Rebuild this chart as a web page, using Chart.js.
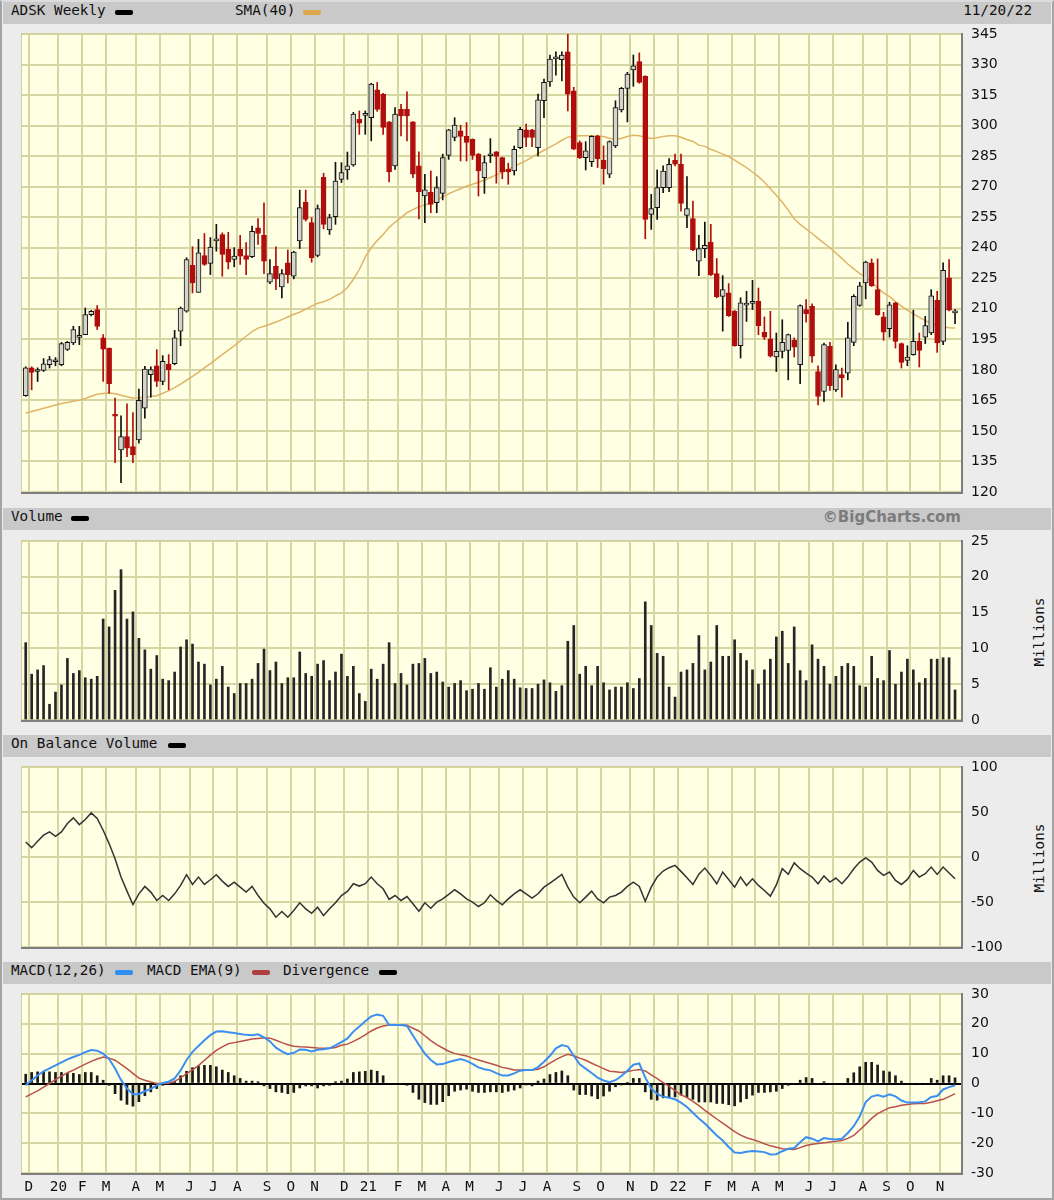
<!DOCTYPE html>
<html>
<head>
<meta charset="utf-8">
<script src="https://cdn.jsdelivr.net/npm/chart.js@4.4.0/dist/chart.umd.min.js"></script>
<style>
  body { margin: 0; background: #ececec; }
  #wrap { position: relative; width: 1050px; height: 1196px; background: #ececec;
          border: 2px solid #a4a4a4; border-top-color: #dcdcdc; }
  .hdr { position: absolute; left: 1px; width: 1048px; height: 22px; background: #c9c9c9; }
  .t { position: absolute; top: 0; line-height: 22px; font: 14.3px "DejaVu Sans Mono", monospace; color: #111; white-space: pre; }
  .sw { position: absolute; top: 8px; width: 18px; height: 5px; border-radius: 2px; }
  .brand { position: absolute; top: 0; right: 90px; line-height: 22px; font: bold 15px "DejaVu Sans", sans-serif; color: #7c7c7c; }
  .mill { position: absolute; left: 1037px; transform: translate(-50%, -50%) rotate(-90deg);
          font: 14.3px "DejaVu Sans Mono", monospace; color: #111; white-space: pre; }
  canvas { position: absolute; left: -2px; }
</style>
</head>
<body>
<div id="wrap">
  <div class="hdr" style="top:0px">
    <span class="t" style="left:8px">ADSK Weekly</span><i class="sw" style="left:112px;background:#000"></i>
    <span class="t" style="left:232px">SMA(40)</span><i class="sw" style="left:300px;background:#dca64c"></i>
    <span class="t" style="right:19px">11/20/22</span>
  </div>
  <div class="hdr" style="top:506px">
    <span class="t" style="left:8px">Volume</span><i class="sw" style="left:68px;background:#000"></i>
    <span class="brand">©BigCharts.com</span>
  </div>
  <div class="hdr" style="top:733px">
    <span class="t" style="left:8px">On Balance Volume</span><i class="sw" style="left:165px;background:#000"></i>
  </div>
  <div class="hdr" style="top:960px">
    <span class="t" style="left:8px">MACD(12,26)</span><i class="sw" style="left:112px;background:#2f8ff0"></i>
    <span class="t" style="left:144px">MACD EMA(9)</span><i class="sw" style="left:249px;background:#b04040"></i>
    <span class="t" style="left:280px">Divergence</span><i class="sw" style="left:376px;background:#000"></i>
  </div>
  <div class="mill" style="top:630px">Millions</div>
  <div class="mill" style="top:856px">Millions</div>

  <canvas id="price" width="1054" height="498" style="top:12px"></canvas>
  <canvas id="vol" width="1054" height="219" style="top:519px"></canvas>
  <canvas id="obv" width="1054" height="220" style="top:745px"></canvas>
  <canvas id="macd" width="1054" height="223" style="top:972px"></canvas>
</div>

<script>
// weekly bars, Nov 18 2019 .. Nov 14 2022 (index = week number)
const opens = [167.3,181,179.2,179.7,182.5,184,182.5,190,193.2,196,
  197.3,207.1,209.6,195.7,190.7,157.6,140.7,147.2,142.3,145.6,
  161.2,177.7,182,174.3,182.8,183,199,208.8,231.3,218.1,
  236.2,232.3,243.4,246.5,239.2,234.2,239.2,236.2,235.6,249.8,
  246.1,223.1,231,220.7,232.6,226,243.3,262.4,252.3,236.2,
  274.6,248.7,255.3,273.6,278.2,280.7,303.1,305,303.9,317.6,
  315.5,301.8,280.2,308,308,301.8,280.2,265.4,267.4,262.1,
  266.7,285.4,294.2,297.4,294.7,293.3,286,274.4,285.2,287.1,
  284.3,278.5,277.7,289.2,297.9,297.9,289.2,312.2,321.5,332.8,
  332.4,336.3,317.1,291.7,284.3,282.3,295,283.1,276.1,290,
  307.7,318.3,327.4,331.4,324.2,256.4,259.7,269.5,269.5,282.9,
  281,255.9,254.3,233.4,239.5,242.8,227.3,216.1,217.8,208.8,
  191.9,211.8,212.7,213.7,198.5,195.2,186.3,189.1,189.6,194.5,
  182.5,209.6,211.2,179.2,169.4,191.6,170.2,177.7,178.4,193.5,
  211.6,222.7,232.6,219.4,206,200.2,212.9,192.9,184.7,187.5,
  194,196.1,198.1,214.2,194,225.2,208];
const highs = [181.5,181.5,181,185.5,186.6,186,193.5,194,201.4,201.4,
  210.4,209.2,211.6,197.3,190.7,166.1,157.4,163.3,159,170.5,
  181.7,181.5,189.9,187,187.5,199.4,210.9,235.1,240.5,244.1,
  247,245,251.5,247.3,247.6,240,246.1,242.5,250.6,254.3,
  262.1,234.2,240.5,229.3,238.9,238.3,268.3,268.3,254.8,261,
  276.6,256.4,282,281.8,287,306.5,307.2,307.2,320.8,321.2,
  315.8,302,308.9,310.5,316.6,302,287.1,276.1,277.7,274.9,
  286,298.2,303.9,300.2,301.5,293.5,286.3,285.1,293.6,287.3,
  284.5,281.5,290,299.1,300.7,298.2,315.5,322.8,334.7,336.3,
  336.3,344.8,318.8,292.5,292.1,295,295.3,290,292.5,312.2,
  318.8,326.2,334.7,335.7,324.5,266.2,278.2,280.2,283.8,286,
  286,274.9,262.9,246.1,252.6,251.5,234.7,226.3,222.4,209.2,
  215.4,218.6,224,220.2,206,208.8,198.1,204.6,197.6,195.7,
  212,214.5,212.5,182,193.2,193.5,182.5,180.9,203.4,216.9,
  223,233.4,234.5,234.5,208.3,213.2,213.2,193.2,191.9,209.3,
  198.1,206.3,219.4,218.6,232.6,234.2,209.6];
const lows = [167,170.2,174.3,179.2,180.9,182,182,189.5,192.4,192.4,
  197.3,206.5,199.8,174.3,168.6,134.4,124.6,137.4,134.4,144,
  156.3,166.6,171.8,172.7,170.2,182.5,191.9,208.3,217.8,218.1,
  231.3,226.8,238.3,226,229.6,230.6,231.8,226.8,235.1,241.6,
  227.3,222.4,219.4,215.4,222.7,224.7,239.6,253.1,232.9,235.5,
  249.3,246.5,251.5,272,273.6,280,295.7,295.7,292.5,307,
  295.7,272.3,278.5,294.9,292.5,274.4,254.2,252.3,257.2,257.2,
  263.5,283.4,292.5,282.6,282.6,283.4,265.4,266.7,281.8,271.7,
  273.9,271.2,275.7,288.7,289.7,289.7,285.1,303.9,319.3,324.8,
  322,307.2,288.2,283.8,278.2,279.9,279.4,271.2,274.4,289.2,
  306.7,301.8,319.3,320.8,244.4,249,253.9,267.1,267.5,280.2,
  258,249.9,238.5,226.3,235.1,226.3,215.4,199,206.2,191.6,
  185.8,203.8,209.6,197.3,194.9,186.3,179.2,185.8,175.1,186.3,
  173.2,203.4,183.7,162.8,164.5,169.9,169.4,166.6,175.1,191.9,
  211.2,214.9,221,206.8,194.5,196.1,190.7,180.9,182,187.2,
  181.4,192.9,197.3,188.6,192.4,209,202.7];
const closes = [181,178.8,179.4,183,185,184.3,192.9,193.5,199.8,196.3,
  207.1,208.8,201.4,190.2,173.2,157.2,147.2,141.5,138.2,165,
  180.4,180.1,174.3,184.2,180.1,195.7,210.4,234.2,222.7,237.5,
  231.8,240.3,243.8,236.7,232.9,235.9,235.9,234.2,248.1,247,
  233.4,227.3,224.7,227.3,226.8,237.9,259.7,253.9,235.1,259.2,
  251.5,254.8,272.8,276.9,280.2,305.6,301.2,305.3,320.4,308,
  299.1,277.2,305.6,304.7,304.7,276.1,267.4,268.4,261.3,269.5,
  284.3,297.9,300.2,294.7,291.7,285.4,277.7,281.8,285.6,284.8,
  277.2,277.2,288.4,298.2,294.2,294.2,312.7,321.2,332.7,333.2,
  334.7,315.5,288.4,284.3,287.6,294.7,283.8,278.8,292.1,308.9,
  318.3,325.3,329.4,321.2,253.9,259.2,269.5,277.7,281,281,
  261.8,259.2,238.9,239.6,241.2,226.8,215.8,219.4,206.6,191.9,
  212.9,212.2,213.1,201.7,196.1,186.7,189.1,193.5,197.3,191.2,
  211.6,207.6,186.7,166.9,192.4,172.2,180.1,176,195.7,216.1,
  221.3,232.9,221.3,207.1,198.5,212,194,183.7,186.3,194,
  189.6,201.7,216.4,193.2,228.9,209.3,208.6];
const sma40 = [158.7,159.5,160.3,161.1,161.9,162.7,163.5,164,164.6,165.1,
  165.9,167,168,168.4,168.6,168.3,167.5,166.8,166.2,166.3,
  166.6,166.9,167.3,168.5,169.8,171.3,173,174.9,176.8,178.8,
  181,183.1,185.3,187.5,189.7,191.8,194.2,196.5,198.8,200.5,
  201.4,202.4,203.5,204.7,206,207.3,208.3,209.8,211.3,212.7,
  213.5,214.6,216.3,217.8,220.5,224.4,229.3,235.5,240,243.5,
  246.5,250,252.5,254.8,257.2,258.7,260.1,261,262,263.5,
  265,266.5,267.8,269,270.2,271.2,272.2,273.3,274.5,275.8,
  277.2,278.5,280,281.4,282.8,284.5,286.2,287.9,289.4,291,
  292.8,294.3,294.8,295,295,295,294.8,294.6,293.8,293.1,
  293.8,294.6,295.2,295,294.3,293.7,294,294.7,295,295,
  294.3,293.2,292.2,290.4,289.8,288.4,287.2,286,284.8,283,
  281.2,279.4,277.2,274.9,272.2,269,265.8,262.3,258.5,254.2,
  251.5,249.3,247,244.6,242.3,240,237.4,234.8,232,229.6,
  227.3,225.5,223,220.2,217.8,216,213.5,211.3,209.3,207.5,
  205.8,204.2,202.8,201.8,201,200.7,200.6];
// volume, millions
const volume = [10.8,6.4,7.0,7.6,2.2,3.9,4.9,8.6,6.5,6.9,
  5.9,5.7,6.1,14.1,13.0,18.1,21.0,14.1,15.1,11.4,
  9.8,7.1,9.0,5.7,5.5,6.7,10.2,11.2,10.6,8.1,
  7.8,4.9,5.7,7.5,4.6,3.7,5.1,5.1,5.7,7.9,
  9.9,6.9,8.1,5.1,5.9,5.9,9.5,6.5,6.1,7.8,
  8.3,5.5,6.7,9.2,6.1,7.5,3.7,2.6,7.1,5.7,
  7.8,10.8,5.1,6.5,4.9,7.8,7.9,8.6,6.5,6.7,
  5.3,4.6,5.1,5.5,4.1,4.3,5.1,4.3,7.3,4.6,
  5.7,6.9,5.7,4.5,4.4,4.4,5.0,5.6,5.2,4.0,
  4.8,11.0,13.2,6.4,7.5,4.8,7.5,5.2,4.2,4.6,
  4.6,5.2,4.4,5.8,16.5,13.2,9.3,8.9,4.6,3.2,
  6.7,7.0,7.9,11.8,7.0,8.1,13.2,8.9,8.9,11.2,
  9.3,8.3,7.0,5.0,7.0,8.5,11.6,12.4,7.9,13.0,
  6.9,5.5,10.5,8.5,7.5,5.0,6.1,7.5,7.9,7.5,
  4.8,4.6,8.9,5.8,5.5,9.7,5.0,6.7,8.5,7.0,
  5.2,5.8,8.5,8.5,8.7,8.7,4.2];
// on balance volume, millions
const obv = [16.7,10.4,17.5,24.2,27.9,23,27.9,37.2,43.5,36,
  41.6,49,42.8,29.7,14.9,-1.9,-22.3,-37.9,-52.8,-40.9,
  -32.7,-39,-48.3,-42.8,-48.3,-40.9,-31.6,-19.7,-30.5,-22.3,
  -30.5,-25.3,-19.7,-26.8,-32.7,-27.9,-33.5,-39,-32.7,-42.8,
  -51.3,-57.6,-66.9,-60.6,-66.9,-59.5,-50.9,-57.6,-62.5,-55.8,
  -65.1,-57.6,-50.9,-42.8,-38.3,-29.7,-32.3,-29.7,-22.3,-29.7,
  -35.3,-47.2,-42.8,-48.3,-43.9,-52,-60.2,-50.9,-56.9,-50.2,
  -46.5,-41.6,-36.4,-40.9,-46.5,-50.2,-55,-50.9,-42,-48.3,
  -53.2,-46.5,-40.9,-36.4,-40.9,-45.7,-40.9,-33.5,-29,-24.2,
  -19.3,-33.5,-44.6,-50.9,-44.6,-37.9,-46.5,-50.9,-44.6,-42.8,
  -39,-32.7,-27.9,-32.7,-49.1,-33.5,-22.3,-15.6,-11.9,-9.3,
  -16,-23,-30.5,-19,-12.3,-20.4,-29.7,-16.7,-25,-33.5,
  -22.3,-31.6,-24.2,-31.6,-37.2,-43.5,-31,-13,-19.3,-6.5,
  -13,-18,-22.3,-29.7,-21,-27.9,-23.4,-29.7,-22.3,-13,
  -5.6,-1,-5.6,-14.9,-20.4,-16.7,-26,-30.5,-24.9,-14.9,
  -22.3,-18.6,-11.2,-19.3,-11.2,-17.8,-24.2];
const macd = [-0.6,1.1,2.7,4.1,5.1,6.1,7.1,8.1,8.9,9.6,
  10.5,11.2,11,10,8.2,5,1.2,-1.7,-3.6,-3.6,
  -2.6,-1.8,-0.6,0.2,0.6,1.7,4.4,7.9,10.6,12.6,
  14.5,16.2,17.4,17.5,17.2,16.9,16.6,16.3,16.2,16.5,
  15.5,14.1,12,10.8,9.8,10.3,11.4,11.3,10.7,11.3,
  11.5,11.8,12.8,13.9,15.1,17.4,19.1,20.9,22.5,23.1,
  22.7,19.6,19.6,19.6,19.3,16.1,13,10,7.9,6.4,
  6.5,7.2,7.7,8.2,7.6,6.6,5.4,4.8,4.4,3.5,
  2.7,2.7,3.4,4.3,4.5,4.5,5.5,7.3,9.3,11.8,
  12.9,12.4,9.3,6.4,5,3.5,2,1,0.4,1.1,
  2.5,4.3,6.3,6.7,2,-1.7,-3.5,-4.4,-4.8,-5.3,
  -6.4,-7.9,-9.8,-11.7,-13.4,-15.4,-17.4,-19.1,-21.3,-23.1,
  -23.3,-22.9,-22.6,-22.8,-23,-23.8,-23.7,-22.7,-21.9,-21.6,
  -19.7,-18,-18.5,-19.4,-18.3,-18.6,-18.8,-18.5,-16.6,-14.3,
  -11,-6.2,-4.4,-3.9,-4.4,-3.6,-4.3,-5.7,-6.4,-6.4,
  -6.3,-6,-4.5,-4.2,-2,-1.2,-0.6];
const macdEma = [-4.5,-3.5,-2.5,-1.2,0,1.3,2.5,3.6,4.5,5.5,
  6.5,7.4,8.2,8.9,8.5,7.8,6.4,5,3.4,1.8,
  1.1,0.5,0,0,0.1,0.7,1.9,3.3,4.6,6,
  7.8,9.5,11.1,12.3,13.3,13.7,14.1,14.5,14.9,15.1,
  15.3,15.2,14.5,13.7,13,12.5,12.3,12.2,12.1,11.9,
  11.8,11.8,12.1,12.8,13.2,14.1,15.1,16.3,17.6,18.6,
  19.3,19.6,19.6,19.6,19.5,18.5,17.6,16,14.4,13,
  11.9,10.8,10.1,9.6,9.2,8.5,7.9,7.3,6.7,6.1,
  5.4,5,4.5,4.5,4.5,4.5,4.8,5.6,6.8,8,
  9,9.8,9.3,8.5,7.8,6.8,5.9,5,4.1,3.9,
  3.7,4,4.4,4.7,4.2,2.9,1.6,0.3,-1,-2.4,
  -3.8,-4.7,-6,-7.4,-9,-10.4,-11.9,-13.3,-14.7,-16.1,
  -17.3,-18.2,-18.8,-19.4,-20.2,-20.9,-21.4,-21.9,-22,-22.1,
  -21.5,-20.8,-20.4,-20.1,-19.9,-19.6,-19.4,-19.1,-18.4,-17.4,
  -15.6,-13.7,-11.7,-10.1,-9.1,-8.1,-7.8,-7.3,-7,-6.8,
  -6.7,-6.7,-6.3,-5.8,-5.3,-4.4,-3.4];
const divergence = [3.1,3.7,3.9,4.1,3.9,3.7,3.7,3.4,3.4,3.0,
  3.7,3.7,2.6,1.1,-0.6,-3.4,-5.6,-7.0,-7.6,-6.1,
  -4.1,-2.8,-1.7,-0.6,0,0.8,2.6,4.1,5.3,5.9,
  6.1,6.1,5.6,4.5,3.7,2.6,1.7,0.8,0.8,0.6,
  -0.8,-1.7,-2.8,-3.0,-3.4,-3.0,-1.5,-0.8,-0.8,-1.5,
  -0.8,-0.6,0.6,0.8,1.5,3.7,3.9,4.1,4.5,4.1,
  2.6,0,0,0,-0.6,-3.0,-5.3,-6.4,-7.0,-7.0,
  -6.1,-4.1,-2.6,-2.2,-1.9,-2.6,-3.0,-3.0,-2.8,-2.8,
  -3.0,-2.6,-2.2,-1.5,-0.5,-0.8,0.8,1.5,3.0,3.7,
  4.2,2.6,-2.2,-3.7,-3.7,-4.2,-5.1,-4.2,-2.6,-1.1,
  -0.5,0.3,1.7,1.7,-2.8,-5.3,-5.6,-4.8,-4.5,-4.5,
  -3.9,-4.5,-5.3,-6.2,-6.2,-6.2,-6.7,-6.7,-7.1,-7.5,
  -6.2,-5.1,-3.9,-3.0,-3.0,-2.8,-2.6,-1.7,-0.6,0,
  1.1,2.0,1.7,0,0.6,0,0,0,1.7,3.6,
  5.6,7.1,7.1,6.2,4.2,3.9,2.6,0.8,0,0,
  0,0,1.7,1.1,2.6,2.6,1.9];

// month grid lines sit just before the week holding the 1st of the month
const monthTicks = [0.5,5.5,9.5,13.5,18.5,22.5,27.5,31.5,35.5,40.5,44.5,48.5,
  53.5,57.5,62.5,66.5,70.5,74.5,79.5,83.5,87.5,92.5,96.5,101.5,
  105.5,109.5,114.5,118.5,122.5,126.5,131.5,135.5,140.5,144.5,148.5,153.5];
const monthLabels = ['D','20','F','M','A','M','J','J','A','S','O','N',
  'D','21','F','M','A','M','J','J','A','S','O','N',
  'D','22','F','M','A','M','J','J','A','S','O','N'];

const X_MIN = -0.79, X_MAX = 157.0;
const GRID = '#d6d6a3';
const RED = '#b00d0d';
const HOLLOW = '#d5d5cc';
const NUM_FONT = { family: "'DejaVu Sans', sans-serif", size: 14 };
const MONO_FONT = { family: "'DejaVu Sans Mono', monospace", size: 14.3 };

const pts = arr => arr.map((v, i) => ({ x: i, y: v }));
const isDown = i => closes[i] < opens[i];

// yellow plot background and the shaded frame
const plotFrame = {
    id: 'plotFrame',
    beforeDraw(chart) {
        const { ctx, chartArea: a } = chart;
        ctx.save();
        ctx.fillStyle = '#ffffe3';
        ctx.fillRect(a.left, a.top - 1, a.right - a.left, a.bottom - a.top + 1);
        ctx.restore();
    },
    afterDraw(chart) {
        const { ctx, chartArea: a } = chart;
        ctx.save();
        ctx.strokeStyle = '#cfcf9c';
        ctx.lineWidth = 1;
        ctx.beginPath();
        ctx.moveTo(a.left + 0.5, a.bottom);
        ctx.lineTo(a.left + 0.5, a.top - 0.5);
        ctx.lineTo(a.right, a.top - 0.5);
        ctx.stroke();
        ctx.strokeStyle = '#7e7e7e';
        ctx.lineWidth = 2;
        ctx.beginPath();
        ctx.moveTo(a.left, a.bottom + 1);
        ctx.lineTo(a.right + 1, a.bottom + 1);
        ctx.lineTo(a.right + 1, a.top - 1);
        ctx.stroke();
        ctx.restore();
    }
};

// padTop/padBottom of 20 leave room for the half-height tick labels (+ tick padding)
function panelOptions(cfg) {
    return {
        responsive: false,
        animation: false,
        layout: { padding: { left: 21, right: 23, top: 20, bottom: cfg.padBottom } },
        plugins: { legend: { display: false }, tooltip: { enabled: false } },
        scales: {
            x: {
                type: 'linear', min: X_MIN, max: X_MAX, offset: false,
                grid: { color: GRID, lineWidth: 2, drawTicks: false, offset: false },
                border: { display: false },
                afterBuildTicks: s => { s.ticks = monthTicks.map(v => ({ value: v })); },
                ticks: {
                    display: !!cfg.showX, autoSkip: false, maxRotation: 0, padding: 6,
                    font: MONO_FONT, color: '#111',
                    callback: (v, i) => monthLabels[i]
                },
                afterFit: s => { s.height = cfg.showX ? 20 : 0; }
            },
            y: {
                position: 'right', min: cfg.min, max: cfg.max, beginAtZero: false,
                grid: {
                    color: ctx => (cfg.zeroLine && ctx.tick && ctx.tick.value === 0) ? '#000' : GRID,
                    lineWidth: 2, drawTicks: false
                },
                border: { display: false },
                ticks: { stepSize: cfg.step, padding: 10, font: NUM_FONT, color: '#111' },
                afterFit: s => { s.width = 70; }
            }
        }
    };
}

// price panel: candles built from floating bars, plus the 40 week SMA
new Chart(document.getElementById('price'), {
    type: 'bar',
    data: {
        datasets: [
            {
                type: 'line', data: pts(sma40), borderColor: '#e0b467', borderWidth: 1.5,
                pointRadius: 0, order: 3
            },
            {
                data: lows.map((l, i) => ({ x: i, y: [l, highs[i]] })),
                barThickness: 1, grouped: false, order: 2,
                backgroundColor: ctx => isDown(ctx.dataIndex) ? RED : '#111'
            },
            {
                data: opens.map((o, i) => ({ x: i, y: [o, closes[i]] })),
                barThickness: 5, grouped: false, order: 1, minBarLength: 2,
                borderWidth: 1, borderSkipped: false,
                backgroundColor: ctx => isDown(ctx.dataIndex) ? RED : HOLLOW,
                borderColor: ctx => isDown(ctx.dataIndex) ? RED : '#111'
            }
        ]
    },
    options: panelOptions({ padBottom: 20, min: 120, max: 345, step: 15 }),
    plugins: [plotFrame]
});

new Chart(document.getElementById('vol'), {
    type: 'bar',
    data: {
        datasets: [{ data: pts(volume), barThickness: 2, backgroundColor: '#262626', grouped: false }]
    },
    options: panelOptions({ padBottom: 20, min: 0, max: 25, step: 5 }),
    plugins: [plotFrame]
});

new Chart(document.getElementById('obv'), {
    type: 'line',
    data: {
        datasets: [{ data: pts(obv), borderColor: '#333', borderWidth: 1.5, pointRadius: 0 }]
    },
    options: panelOptions({ padBottom: 20, min: -100, max: 100, step: 50 }),
    plugins: [plotFrame]
});

new Chart(document.getElementById('macd'), {
    type: 'bar',
    data: {
        datasets: [
            { type: 'line', data: pts(macd), borderColor: '#3b8ff0', borderWidth: 2, pointRadius: 0, order: 1 },
            { type: 'line', data: pts(macdEma), borderColor: '#b9504a', borderWidth: 1.5, pointRadius: 0, order: 2 },
            { data: pts(divergence), barThickness: 2, backgroundColor: '#1a1a1a', grouped: false, order: 3 }
        ]
    },
    options: panelOptions({ padBottom: 4, min: -30, max: 30, step: 10, zeroLine: true, showX: true }),
    plugins: [plotFrame]
});
</script>
</body>
</html>
